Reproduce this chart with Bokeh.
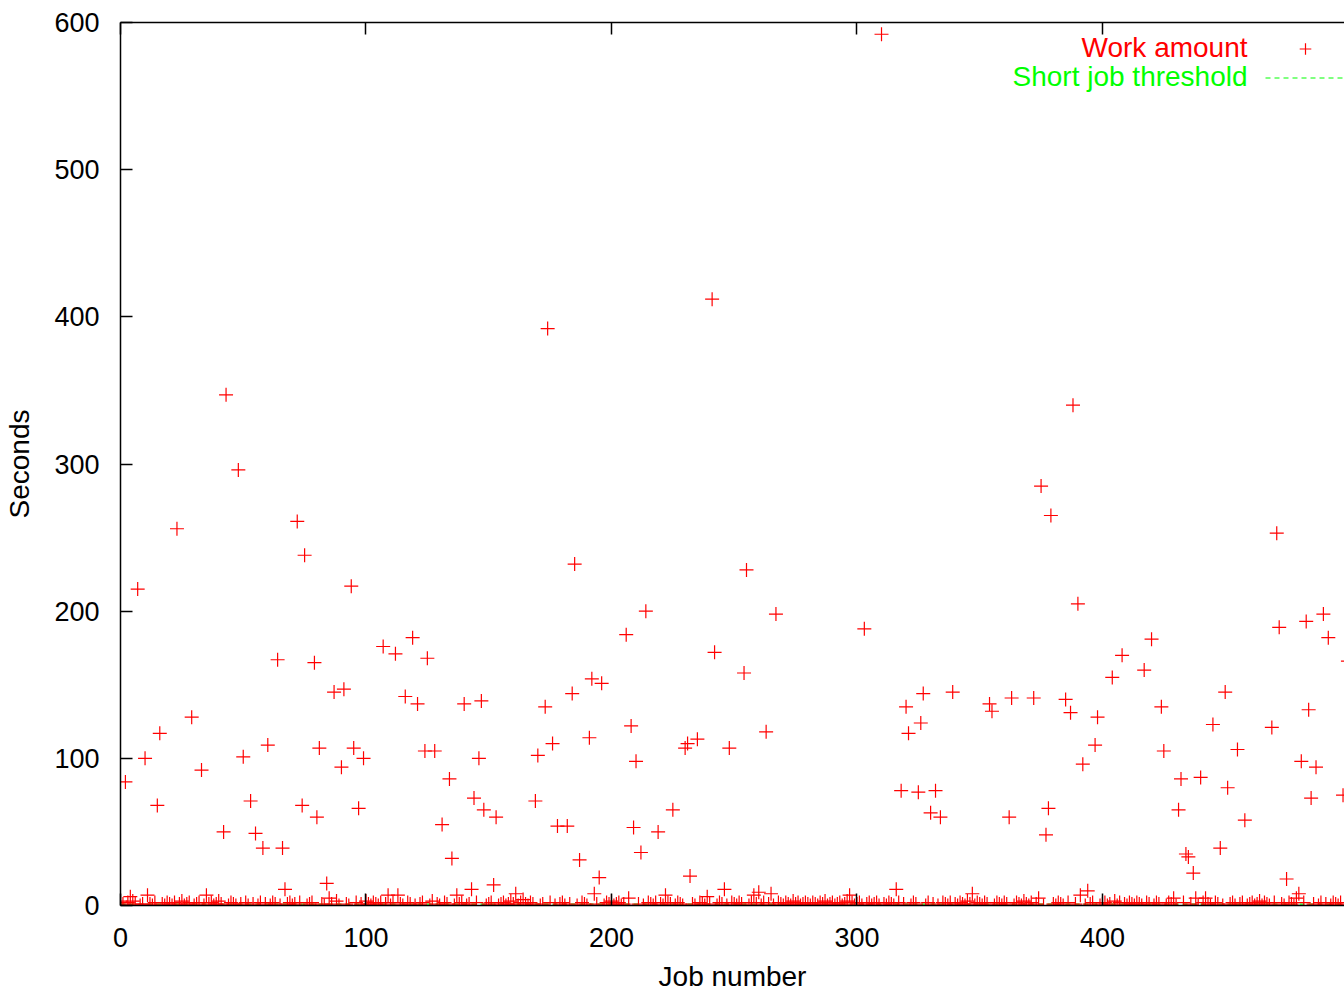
from bokeh.plotting import figure
from bokeh.models import (Range1d, SingleIntervalTicker, LinearAxis, Legend, LegendItem,
                          CustomLabelingPolicy, Label)
from bokeh.embed import file_html
from bokeh.resources import INLINE

# Seconds of work per job (job number = position in the list)
seconds = [
    3, 1, 84, 2, 6, 3, 1, 215, 0, 1,
    100, 7, 1, 0, 2, 68, 117, 1, 0, 2,
    1, 0, 2, 256, 1, 3, 0, 1, 2, 128,
    0, 1, 2, 92, 0, 7, 1, 2, 0, 1,
    3, 1, 50, 347, 0, 2, 1, 0, 296, 1,
    101, 2, 0, 71, 1, 49, 0, 2, 39, 1,
    109, 0, 2, 1, 167, 0, 39, 11, 1, 2,
    0, 1, 261, 2, 68, 238, 0, 1, 2, 165,
    60, 107, 1, 0, 15, 5, 1, 145, 3, 0,
    94, 147, 1, 0, 217, 107, 2, 66, 1, 100,
    3, 1, 0, 2, 1, 0, 2, 176, 1, 7,
    0, 2, 171, 7, 1, 0, 142, 2, 1, 182,
    0, 137, 1, 2, 105, 168, 0, 3, 105, 1,
    0, 55, 2, 1, 86, 32, 0, 7, 1, 2,
    137, 0, 1, 11, 73, 2, 100, 139, 65, 0,
    1, 2, 14, 60, 0, 1, 2, 0, 1, 3,
    1, 8, 0, 2, 4, 1, 0, 2, 1, 71,
    102, 0, 1, 135, 392, 2, 110, 0, 54, 1,
    2, 0, 54, 1, 144, 232, 0, 31, 2, 1,
    0, 114, 154, 8, 1, 19, 151, 0, 2, 1,
    3, 0, 1, 2, 0, 1, 184, 5, 122, 53,
    98, 1, 36, 0, 200, 2, 1, 0, 2, 50,
    1, 0, 7, 2, 1, 65, 0, 2, 1, 0,
    107, 110, 20, 1, 0, 113, 2, 1, 0, 6,
    1, 412, 172, 0, 2, 1, 11, 0, 107, 2,
    1, 0, 2, 1, 158, 228, 0, 2, 7, 1,
    9, 0, 2, 118, 1, 8, 0, 198, 2, 1,
    0, 2, 1, 0, 3, 1, 2, 0, 1, 2,
    1, 0, 2, 1, 0, 2, 1, 3, 0, 1,
    2, 0, 1, 2, 0, 1, 3, 7, 2, 0,
    1, 2, 0, 188, 1, 2, 0, 1, 2, 0,
    592, 1, 0, 2, 1, 0, 11, 2, 78, 1,
    135, 117, 0, 2, 1, 77, 124, 144, 0, 2,
    63, 1, 78, 0, 60, 2, 1, 0, 2, 145,
    1, 0, 2, 1, 0, 3, 1, 8, 0, 2,
    1, 0, 2, 1, 137, 132, 0, 2, 1, 0,
    2, 1, 60, 141, 0, 2, 1, 0, 3, 1,
    0, 2, 141, 1, 5, 285, 0, 48, 66, 265,
    1, 0, 2, 1, 0, 140, 2, 131, 340, 1,
    205, 7, 96, 0, 10, 1, 2, 109, 128, 0,
    1, 2, 0, 1, 155, 3, 0, 2, 170, 1,
    0, 2, 1, 0, 2, 1, 0, 160, 2, 1,
    181, 0, 2, 1, 135, 105, 0, 2, 1, 5,
    0, 65, 86, 2, 35, 33, 1, 22, 5, 0,
    87, 2, 5, 1, 0, 123, 2, 1, 39, 0,
    145, 80, 1, 2, 0, 106, 1, 2, 58, 0,
    1, 2, 0, 1, 3, 0, 2, 1, 0, 121,
    2, 253, 189, 1, 0, 18, 2, 1, 0, 5,
    8, 98, 2, 193, 133, 73, 1, 94, 0, 2,
    198, 1, 182, 0, 2, 1, 0, 2, 75, 1,
    166,
]
jobs = list(range(len(seconds)))
threshold = 1
series_names = ["Work amount", "Short job threshold"]
x_ticks_step = 100
y_ticks_step = 100

FONT = "Liberation Sans"
TICK_FS = "27px"
LABEL_FS = "28px"
RED = "#ff0000"
GREEN = "#00ff00"

p = figure(width=1344, height=997, output_backend="svg", toolbar_location=None,
           x_range=Range1d(0, 498.6), y_range=Range1d(0, 600),
           x_axis_location=None, y_axis_location=None,
           min_border_left=120, min_border_right=0, min_border_top=22, min_border_bottom=92)
p.outline_line_color = None
p.xgrid.visible = False
p.ygrid.visible = False
p.background_fill_color = "white"
p.border_fill_color = "white"

def style_axis(ax):
    ax.axis_line_color = "black"
    ax.axis_line_width = 1.5
    ax.major_tick_line_color = "black"
    ax.major_tick_line_width = 1.5
    ax.major_tick_in = 12
    ax.major_tick_out = 0
    ax.minor_tick_line_color = None
    ax.major_label_text_font = FONT
    ax.major_label_text_font_size = TICK_FS
    ax.major_label_text_color = "black"
    ax.axis_label_text_font = FONT
    ax.axis_label_text_font_size = LABEL_FS
    ax.axis_label_text_font_style = "normal"
    ax.axis_label_text_color = "black"

xb = LinearAxis(ticker=SingleIntervalTicker(interval=x_ticks_step), axis_label="Job number")
style_axis(xb)
xb.major_label_standoff = 18
xb.axis_label_standoff = 11
p.add_layout(xb, "below")

# top frame line with inward ticks, no labels
xt = LinearAxis(ticker=SingleIntervalTicker(interval=x_ticks_step))
style_axis(xt)
xt.major_label_text_font_size = "0px"
xt.major_label_standoff = 0
xt.major_label_policy = CustomLabelingPolicy(
    code="for (const i of Array.from(indices)) { indices.unset(i) }")
p.add_layout(xt, "above")

yl = LinearAxis(ticker=SingleIntervalTicker(interval=y_ticks_step), axis_label="Seconds")
style_axis(yl)
yl.major_label_standoff = 17
yl.axis_label_standoff = 16
p.add_layout(yl, "left")

r_thr = p.line(x=[jobs[0], jobs[-1]], y=[threshold, threshold], line_color=GREEN,
               line_width=1.2, line_dash="5 4")
r_work = p.scatter(x=jobs, y=seconds, marker="cross", size=14, line_color=RED,
                   line_width=1.2)

# key samples (gnuplot style: text on the left, sample on the right)
legend = Legend(items=[LegendItem(label=" ", renderers=[r_work]),
                       LegendItem(label=" ", renderers=[r_thr])],
                location=(1145, 813), orientation="vertical",
                glyph_width=80, glyph_height=29, label_height=29, label_width=1,
                spacing=0, padding=0, margin=0, label_standoff=0,
                label_text_font_size="1px", border_line_color=None,
                background_fill_alpha=0)
p.add_layout(legend)

for name, color, ypos in [(series_names[0], RED, 583.0), (series_names[1], GREEN, 563.3)]:
    p.add_layout(Label(x=459.1, y=ypos, text=name, text_align="right",
                       text_baseline="middle", text_color=color, text_font=FONT,
                       text_font_size=LABEL_FS))

open("out.html", "w").write(file_html(p, INLINE))
